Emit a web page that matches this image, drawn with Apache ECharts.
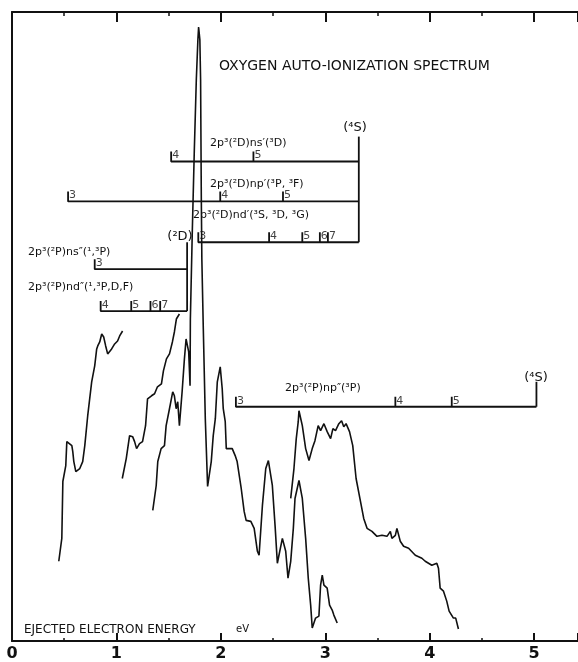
<!DOCTYPE html>
<html>
<head>
<meta charset="utf-8">
<script src="https://cdn.jsdelivr.net/npm/echarts@6/dist/echarts.min.js"></script>
<style>
  html, body { margin: 0; padding: 0; background: #fff; }
  #chart { width: 578px; height: 662px; }
</style>
</head>
<body>
<div id="chart"></div>
<script>
// oxygen auto-ionization spectrum, ejected electron energy (eV) vs counts (arb.)

// spectrum traces, [energy eV, intensity]
var traceLow = [[0.448,80],[0.477,103],[0.487,160],[0.515,176],[0.525,200],[0.534,202],[0.573,196],[0.582,190],[0.592,180],[0.611,170],[0.649,173],[0.677,180],[0.697,196],[0.725,226],[0.763,260],[0.792,276],[0.811,293],[0.821,296],[0.840,300],[0.859,308],[0.878,305],[0.897,296],[0.916,288],[0.935,286],[0.954,293],[0.983,298],[1.011,301],[1.031,306],[1.059,311]];

var traceMid = [[1.056,163],[1.094,183],[1.126,206],[1.155,205],[1.174,200],[1.193,193],[1.221,198],[1.250,200],[1.279,216],[1.298,243],[1.336,246],[1.365,248],[1.393,255],[1.431,258],[1.450,271],[1.479,283],[1.508,288],[1.536,300],[1.555,310],[1.574,323],[1.603,328]];

var traceMain = [[1.348,131],[1.381,156],[1.396,180],[1.428,193],[1.460,196],[1.476,216],[1.508,233],[1.539,250],[1.555,246],[1.572,233],[1.587,240],[1.603,216],[1.629,250],[1.651,283],[1.667,303],[1.692,290],[1.705,256],
  [1.708,323],[1.727,413],[1.746,493],[1.765,563],[1.780,603],[1.787,616],[1.799,603],[1.806,563],[1.813,443],[1.818,383],[1.832,313],[1.851,223],[1.873,155],
  [1.908,180],[1.927,206],[1.947,223],[1.966,260],[1.994,275],[2.013,253],[2.023,233],[2.042,220],[2.052,193],[2.071,193],[2.109,193],[2.137,186],[2.156,180],[2.195,153],[2.223,130],[2.242,121],[2.287,120],[2.319,113],[2.350,90],[2.366,86],[2.385,88],
  [2.398,136],[2.430,173],[2.455,181],[2.493,156],[2.519,116],[2.541,78],[2.589,103],[2.621,90],[2.643,63],[2.669,80],[2.694,113],[2.710,143],[2.748,161],[2.780,143],[2.812,103],[2.837,63],[2.860,36],[2.875,13],[2.907,23],[2.939,25],[2.955,56],[2.971,66],[2.987,56],[3.018,53],[3.041,36],[3.066,31],[3.082,26],[3.114,18]];

var traceHigh = [[2.669,143],[2.700,173],[2.722,203],[2.741,220],[2.748,231],[2.780,216],[2.812,193],[2.844,181],[2.875,193],[2.901,201],[2.932,216],[2.955,211],[2.987,218],[3.018,210],[3.051,203],[3.073,213],[3.098,211],[3.130,218],[3.156,221],[3.177,215],[3.199,218],[3.232,210],[3.263,196],[3.295,163],[3.337,140],[3.368,123],[3.400,113],[3.447,110],[3.495,105],[3.543,106],[3.591,105],[3.623,110],[3.638,103],[3.671,106],[3.686,113],[3.718,100],[3.750,95],[3.798,93],[3.862,86],[3.925,83],[3.957,80],[4.020,76],[4.068,78],[4.084,73],[4.100,53],[4.132,50],[4.163,40],[4.186,30],[4.227,23],[4.249,23],[4.275,12]];

// Rydberg series: level energies, level numbers, bar height
var nsD_levels = [1.524, 2.312], nsD_n = ['4','5'], nsD_y = 481;
var npD_levels = [0.537, 1.994, 2.595], npD_n = ['3','4','5'], npD_y = 441;
var ndD_levels = [1.784, 2.462, 2.780, 2.948, 3.025], ndD_n = ['3','4','5','6','7'], ndD_y = 400;
var nsP_levels = [0.792], nsP_n = ['3'], nsP_y = 373;
var ndP_levels = [0.849, 1.142, 1.326, 1.419], ndP_n = ['4','5','6','7'], ndP_y = 331;
var npP_levels = [2.144, 3.671, 4.211], npP_n = ['3','4','5'], npP_y = 235;

// series limits and the extent of their vertical markers
var limitD = 3.321, limitD_span = [400, 506];
var limitP = 1.677, limitP_span = [331, 400];
var limitS = 5.022, limitS_span = [235, 260];

var xTicks = [0, 1, 2, 3, 4, 5];

var tickH = 10;
var ink = '#111';

function comb(levels, y, limit) {
  var pts = [[levels[0], y + tickH], [levels[0], y]];
  for (var i = 1; i < levels.length; i++) {
    pts.push([levels[i], y], [levels[i], y + tickH], [levels[i], y]);
  }
  pts.push([limit, y]);
  return pts;
}
function nums(levels, n, y) {
  return levels.map(function (x, i) { return [x, y + tickH, n[i]]; });
}

var chart = echarts.init(document.getElementById('chart'));

function trace(d, w) {
  return {
    type: 'line', data: d, symbol: 'none', silent: true,
    lineStyle: { color: ink, width: w || 1.6 }
  };
}

var series = [
  trace(traceLow), trace(traceMid), trace(traceMain), trace(traceHigh),
  trace(comb(nsD_levels, nsD_y, limitD), 1.8),
  trace(comb(npD_levels, npD_y, limitD), 1.8),
  trace(comb(ndD_levels, ndD_y, limitD), 1.8),
  trace(comb(nsP_levels, nsP_y, limitP), 1.8),
  trace(comb(ndP_levels, ndP_y, limitP), 1.8),
  trace(comb(npP_levels, npP_y, limitS), 1.8),
  trace([[limitD, limitD_span[0]], [limitD, limitD_span[1]]], 1.8),
  trace([[limitP, limitP_span[0]], [limitP, limitP_span[1]]], 1.8),
  trace([[limitS, limitS_span[0]], [limitS, limitS_span[1]]], 1.8),
  {
    type: 'scatter', symbolSize: 0, silent: true,
    data: [].concat(
      nums(nsD_levels, nsD_n, nsD_y), nums(npD_levels, npD_n, npD_y),
      nums(ndD_levels, ndD_n, ndD_y), nums(nsP_levels, nsP_n, nsP_y),
      nums(ndP_levels, ndP_n, ndP_y), nums(npP_levels, npP_n, npP_y)),
    label: {
      show: true, position: 'right', distance: 1, offset: [0, 4],
      formatter: function (p) { return p.value[2]; },
      color: ink, fontSize: 11, fontFamily: 'DejaVu Sans'
    }
  }
];

function txt(x, y, s, size, align) {
  return {
    type: 'text', x: x, y: y, silent: true,
    style: {
      text: s, fill: ink, fontSize: size || 11, fontFamily: 'DejaVu Sans',
      textAlign: align || 'left', textVerticalAlign: 'middle'
    }
  };
}

var axisCommon = {
  type: 'value', min: 0, max: 5.42, interval: 1,
  axisLine: { show: true, onZero: false, lineStyle: { color: ink, width: 2 } },
  splitLine: { show: false }
};

option = {
  animation: false,
  grid: { left: 12, right: -2, top: 12, bottom: 19 },
  xAxis: [
    Object.assign({}, axisCommon, {
      position: 'bottom',
      axisTick: { show: true, inside: true, length: 8, lineStyle: { color: ink, width: 2 } },
      minorTick: { show: true, splitNumber: 2, length: 3, lineStyle: { color: ink, width: 1.5 } },
      axisLabel: {
        color: ink, fontSize: 16, fontWeight: 'bold', margin: 5, fontFamily: 'DejaVu Sans',
        customValues: xTicks
      }
    }),
    Object.assign({}, axisCommon, {
      position: 'top',
      axisTick: { show: true, inside: true, length: 10, lineStyle: { color: ink, width: 2 } },
      minorTick: { show: true, splitNumber: 2, length: 4, lineStyle: { color: ink, width: 1.5 } },
      axisLabel: { show: false }
    })
  ],
  yAxis: {
    type: 'value', min: 0, max: 631,
    axisLine: { show: true, onZero: false, lineStyle: { color: ink, width: 2 } },
    axisTick: { show: false }, axisLabel: { show: false }, splitLine: { show: false }
  },
  graphic: [
    txt(219, 66, 'OXYGEN AUTO-IONIZATION SPECTRUM', 14),
    txt(210, 143, '2p\u00b3(\u00b2D)ns\u2032(\u00b3D)'),
    txt(210, 184, '2p\u00b3(\u00b2D)np\u2032(\u00b3P, \u00b3F)'),
    txt(193, 215, '2p\u00b3(\u00b2D)nd\u2032(\u00b3S, \u00b3D, \u00b3G)'),
    txt(28, 252, '2p\u00b3(\u00b2P)ns\u2033(\u00b9,\u00b3P)'),
    txt(28, 287, '2p\u00b3(\u00b2P)nd\u2033(\u00b9,\u00b3P,D,F)'),
    txt(285, 388, '2p\u00b3(\u00b2P)np\u2033(\u00b3P)'),
    txt(355, 128, '(\u2074S)', 13, 'center'),
    txt(536, 378, '(\u2074S)', 13, 'center'),
    txt(180, 237, '(\u00b2D)', 13, 'center'),
    txt(24, 630, 'EJECTED ELECTRON ENERGY', 12),
    txt(236, 629, 'eV', 10)
  ],
  series: series
};

chart.setOption(option);
window.onresize = function () { chart.resize(); };
</script>
</body>
</html>
